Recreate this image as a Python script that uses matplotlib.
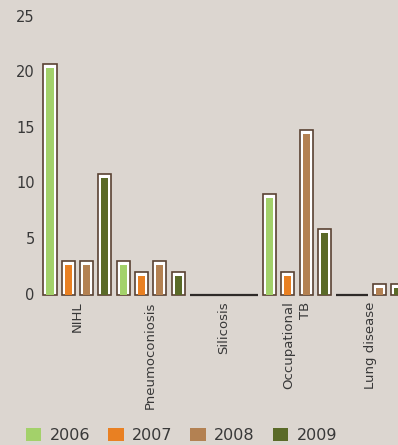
import numpy as np
import matplotlib.pyplot as plt
from matplotlib.patches import Patch
import matplotlib.transforms as mtransforms

# datos
categorias = ['NIHL', 'Pneumoconiosis', 'Silicosis', 'Occupational\nTB', 'Lung disease']
anios = ['2006', '2007', '2008', '2009']
v2006 = [20.4, 2.7, 0, 8.75, 0]
v2007 = [2.7, 1.7, 0, 1.7, 0]
v2008 = [2.7, 2.7, 0, 14.5, 0.6]
v2009 = [10.5, 1.7, 0, 5.6, 0.6]
yticks = [0, 5, 10, 15, 20, 25]

colores = ['#a3d16a', '#e98022', '#b38152', '#5a6a28']
fondo = '#dcd6d0'
borde = '#5a4232'

fig = plt.figure(figsize=(3.98, 4.45), dpi=100, facecolor=fondo)
ax = fig.add_axes([35/398, 0.3245, 1 - 35/398, 0.9865 - 0.3245])
ax.set_facecolor(fondo)

x = np.arange(len(categorias))
paso = 0.25
ancho = 0.178
ancho_int = 0.096
extra = 0.36

series = [v2006, v2007, v2008, v2009]
for i, vals in enumerate(series):
    pos = x + (i - 1.5) * paso
    vals = np.array(vals)
    nz = vals > 0
    ax.bar(pos[nz], vals[nz] + extra, width=ancho, color='white',
           edgecolor=borde, linewidth=1.2, zorder=2)
    ax.bar(pos[nz], vals[nz], width=ancho_int, color=colores[i], zorder=3)

# barras en cero: una línea
for g in range(len(categorias)):
    ceros = [i for i in range(4) if series[i][g] == 0]
    if ceros:
        x0 = x[g] + (ceros[0] - 1.5) * paso - ancho / 2
        x1 = x[g] + (ceros[-1] - 1.5) * paso + ancho / 2
        ax.hlines(0, x0, x1, color='#2e2a28', linewidth=1.6, zorder=3)

ax.set_xlim(-0.58, 4.38)
ax.set_ylim(-0.5, 26)
ax.set_yticks(yticks)
ax.set_xticks(x)
ax.set_xticklabels(categorias, rotation=90, va='top', ha='center',
                   fontsize=9.5, color='#383838', linespacing=1.4)
for t in ax.get_xticklabels():
    t.set_multialignment('right')
ax.tick_params(axis='both', length=0)
ax.tick_params(axis='x', pad=0.5)
ax.tick_params(axis='y', pad=1, labelsize=10.5, labelcolor='#383838')
desplaz = mtransforms.ScaledTranslation(1/100, 1.5/100, fig.dpi_scale_trans)
for t in ax.get_yticklabels():
    t.set_transform(t.get_transform() + desplaz)
for s in ax.spines.values():
    s.set_visible(False)

handles = [Patch(facecolor=c, edgecolor='none') for c in colores]
fig.legend(handles, anios, loc='center left', bbox_to_anchor=(0.03, 0.022),
           ncol=4, frameon=False, fontsize=11.5, handlelength=0.95,
           handleheight=0.95, handletextpad=0.55, columnspacing=1.1,
           labelcolor='#383838')

plt.savefig('out.png', dpi=100, facecolor=fondo)
